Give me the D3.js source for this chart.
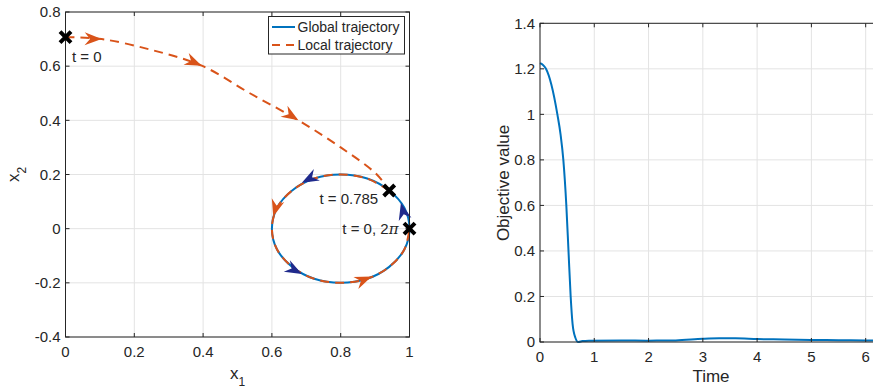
<!DOCTYPE html>
<html>
<head>
<meta charset="utf-8">
<script src="https://cdn.jsdelivr.net/npm/d3@7"></script>
<style>
  body { margin: 0; background: #fff; }
  text { font-family: "Liberation Sans", Arial, Helvetica, sans-serif; fill: #262626; }
</style>
</head>
<body>
<svg id="chart" width="873" height="388"></svg>
<script>
// ---- data ----
// global trajectory: closed circle around (0.8, 0)
const globalX = [1.0, 0.985, 0.941, 0.877, 0.8, 0.723, 0.659, 0.615, 0.6, 0.615, 0.659, 0.723, 0.8, 0.877, 0.941, 0.985];
const globalY = [0, 0.077, 0.141, 0.185, 0.2, 0.185, 0.141, 0.077, 0, -0.077, -0.141, -0.185, -0.2, -0.185, -0.141, -0.077];

// local trajectory: approach from t = 0, then along the circle from t = 0.785 to 2pi
const approachX = [0, 0.105, 0.25, 0.396, 0.536, 0.677, 0.8, 0.905, 0.941];
const approachY = [0.707, 0.70, 0.66, 0.602, 0.50, 0.40, 0.30, 0.20, 0.141];
const loopX = [0.941, 0.877, 0.8, 0.723, 0.659, 0.615, 0.6, 0.615, 0.659, 0.723, 0.8, 0.877, 0.941, 0.985, 1.0];
const loopY = [0.141, 0.185, 0.2, 0.185, 0.141, 0.077, 0, -0.077, -0.141, -0.185, -0.2, -0.185, -0.141, -0.077, 0];

// direction arrows (tip position and heading, data units)
const globalArrowX = [0.687, 0.975, 0.687];
const globalArrowY = [0.170, 0.095, -0.167];
const globalArrowDX = [-0.85, -0.2, 0.835];
const globalArrowDY = [-0.565, 1, -0.565];
const localArrowX = [0.105, 0.396, 0.677, 0.604, 0.89];
const localArrowY = [0.70, 0.602, 0.40, 0.045, -0.177];
const localArrowDX = [1, 1, 1, -0.225, 0.885];
const localArrowDY = [-0.02, -0.55, -0.8, -0.98, 0.45];

// time markers
const markerX = [0, 0.941, 1.0];
const markerY = [0.707, 0.141, 0];

// objective value over time
const timeVals = [0, 0.05, 0.11, 0.21, 0.32, 0.38, 0.43, 0.485, 0.525, 0.565, 0.60, 0.65, 0.706, 0.78, 0.9, 1.5, 2.0, 2.5, 3.0, 3.3, 3.6, 4.0, 4.5, 5.0, 5.5, 6.0, 6.283];
const objVals  = [1.225, 1.218, 1.20, 1.13, 1.0, 0.91, 0.80, 0.60, 0.40, 0.20, 0.08, 0.02, 0.0, 0.004, 0.006, 0.007, 0.006, 0.007, 0.014, 0.016, 0.016, 0.013, 0.011, 0.009, 0.008, 0.007, 0.006];

// ticks
const leftXTicks = [0, 0.2, 0.4, 0.6, 0.8, 1];
const leftYTicks = [-0.4, -0.2, 0, 0.2, 0.4, 0.6, 0.8];
const rightXTicks = [0, 1, 2, 3, 4, 5, 6];
const rightYTicks = [0, 0.2, 0.4, 0.6, 0.8, 1, 1.2, 1.4];

const blue = "#0072BD", orange = "#D95319", navy = "#1f2a8c";

const svg = d3.select("#chart");

function drawFrame(g, x, y, xTicks, yTicks) {
  const [x0, x1] = x.range(), [y0, y1] = y.range();
  // grid
  g.append("g").selectAll("line").data(xTicks).enter().append("line")
    .attr("x1", d => x(d)).attr("x2", d => x(d)).attr("y1", y0).attr("y2", y1)
    .attr("stroke", "#e3e3e3");
  g.append("g").selectAll("line").data(yTicks).enter().append("line")
    .attr("x1", x0).attr("x2", x1).attr("y1", d => y(d)).attr("y2", d => y(d))
    .attr("stroke", "#e3e3e3");
}

function drawBox(g, x, y, xTicks, yTicks) {
  const [x0, x1] = x.range(), [y0, y1] = y.range();
  const ax = g.append("g").attr("stroke", "#262626").attr("fill", "none");
  ax.append("rect").attr("x", x0).attr("y", y1).attr("width", x1 - x0).attr("height", y0 - y1);
  const tl = 4;
  xTicks.forEach(d => {
    ax.append("line").attr("x1", x(d)).attr("x2", x(d)).attr("y1", y0).attr("y2", y0 - tl);
    ax.append("line").attr("x1", x(d)).attr("x2", x(d)).attr("y1", y1).attr("y2", y1 + tl);
  });
  yTicks.forEach(d => {
    ax.append("line").attr("x1", x0).attr("x2", x0 + tl).attr("y1", y(d)).attr("y2", y(d));
    ax.append("line").attr("x1", x1).attr("x2", x1 - tl).attr("y1", y(d)).attr("y2", y(d));
  });
  g.append("g").selectAll("text").data(xTicks).enter().append("text")
    .attr("x", d => x(d)).attr("y", y0 + 20).attr("text-anchor", "middle")
    .style("font-size", "15px").text(d => String(d));
  g.append("g").selectAll("text").data(yTicks).enter().append("text")
    .attr("x", x0 - 5).attr("y", d => y(d) + 5.3).attr("text-anchor", "end")
    .style("font-size", "15px").text(d => String(d));
}

function arrowHeads(g, x, y, ax, ay, adx, ady, color) {
  const L = 17, W = 13;
  ax.forEach((d, i) => {
    const px = x(ax[i]), py = y(ay[i]);
    const qx = x(ax[i] + adx[i] * 0.01), qy = y(ay[i] + ady[i] * 0.01);
    const ang = Math.atan2(qy - py, qx - px) * 180 / Math.PI;
    g.append("path")
      .attr("d", `M0,0 L${-L},${-W / 2} L${-0.68 * L},0 L${-L},${W / 2} Z`)
      .attr("transform", `translate(${px},${py}) rotate(${ang})`)
      .attr("fill", color);
  });
}

// ---- left plot ----
const xL = d3.scaleLinear().domain([0, 1]).range([65.5, 409.5]);
const yL = d3.scaleLinear().domain([-0.4, 0.8]).range([337, 12]);
const gL = svg.append("g");
drawFrame(gL, xL, yL, leftXTicks, leftYTicks);

const pts = (xs, ys) => xs.map((v, i) => [v, ys[i]]);
const closedLine = d3.line().x(d => xL(d[0])).y(d => yL(d[1])).curve(d3.curveCatmullRomClosed);
const openLine = d3.line().x(d => xL(d[0])).y(d => yL(d[1])).curve(d3.curveCatmullRom.alpha(0.5));

gL.append("path").attr("d", closedLine(pts(globalX, globalY)))
  .attr("fill", "none").attr("stroke", blue).attr("stroke-width", 2);
[pts(approachX, approachY), pts(loopX, loopY)].forEach(p => {
  gL.append("path").attr("d", openLine(p))
    .attr("fill", "none").attr("stroke", orange).attr("stroke-width", 2)
    .attr("stroke-dasharray", "9,6");
});

arrowHeads(gL, xL, yL, globalArrowX, globalArrowY, globalArrowDX, globalArrowDY, navy);
arrowHeads(gL, xL, yL, localArrowX, localArrowY, localArrowDX, localArrowDY, orange);

drawBox(gL, xL, yL, leftXTicks, leftYTicks);

// markers
markerX.forEach((d, i) => {
  const px = xL(markerX[i]), py = yL(markerY[i]), s = 5.5;
  gL.append("path").attr("d", `M${px - s},${py - s}L${px + s},${py + s}M${px - s},${py + s}L${px + s},${py - s}`)
    .attr("stroke", "#000").attr("stroke-width", 4);
});
const lbl = gL.append("g").style("font-size", "15px");
lbl.append("text").attr("x", xL(markerX[0]) + 6.5).attr("y", yL(markerY[0]) + 24.5).text("t = 0");
lbl.append("text").attr("x", xL(markerX[1]) - 11).attr("y", yL(markerY[1]) + 13.5)
  .attr("text-anchor", "end").text("t = 0.785");
const t3 = lbl.append("text").attr("x", xL(markerX[2]) - 11).attr("y", yL(markerY[2]) + 5.5)
  .attr("text-anchor", "end");
t3.append("tspan").text("t = 0, 2");
t3.append("tspan").style("font-family", "'DejaVu Serif', serif").style("font-style", "italic").text("π");

// axis labels
const xl1 = gL.append("text").attr("x", 237.5).attr("y", 378.5).attr("text-anchor", "middle").style("font-size", "17px");
xl1.append("tspan").text("x");
xl1.append("tspan").attr("dy", 7).style("font-size", "12px").text("1");
const yl1 = gL.append("text").attr("transform", "translate(18.5,174.5) rotate(-90)")
  .attr("text-anchor", "middle").style("font-size", "17px");
yl1.append("tspan").text("x");
yl1.append("tspan").attr("dy", 7).style("font-size", "12px").text("2");

// legend
const leg = gL.append("g");
leg.append("rect").attr("x", 268.5).attr("y", 16.5).attr("width", 136).attr("height", 37.5)
  .attr("fill", "#fff").attr("stroke", "#262626");
leg.append("line").attr("x1", 272).attr("x2", 295).attr("y1", 27).attr("y2", 27)
  .attr("stroke", blue).attr("stroke-width", 2);
leg.append("line").attr("x1", 272).attr("x2", 295).attr("y1", 45).attr("y2", 45)
  .attr("stroke", orange).attr("stroke-width", 2).attr("stroke-dasharray", "8,6");
leg.append("text").attr("x", 297.5).attr("y", 32).style("font-size", "14px").text("Global trajectory");
leg.append("text").attr("x", 297.5).attr("y", 50).style("font-size", "14px").text("Local trajectory");

// ---- right plot ----
const xR = d3.scaleLinear().domain([0, 2 * Math.PI]).range([540, 540 + 2 * Math.PI * 54.28]);
const yR = d3.scaleLinear().domain([0, 1.4]).range([342, 23.3]);
const gR = svg.append("g");
drawFrame(gR, xR, yR, rightXTicks, rightYTicks);
gR.append("path")
  .attr("d", d3.line().x((d, i) => xR(timeVals[i])).y(d => yR(d)).curve(d3.curveMonotoneX)(objVals))
  .attr("fill", "none").attr("stroke", blue).attr("stroke-width", 2);
drawBox(gR, xR, yR, rightXTicks, rightYTicks);

gR.append("text").attr("x", 711).attr("y", 382).attr("text-anchor", "middle")
  .style("font-size", "17px").text("Time");
gR.append("text").attr("transform", "translate(509,183) rotate(-90)")
  .attr("text-anchor", "middle").style("font-size", "17px").text("Objective value");
</script>
</body>
</html>
